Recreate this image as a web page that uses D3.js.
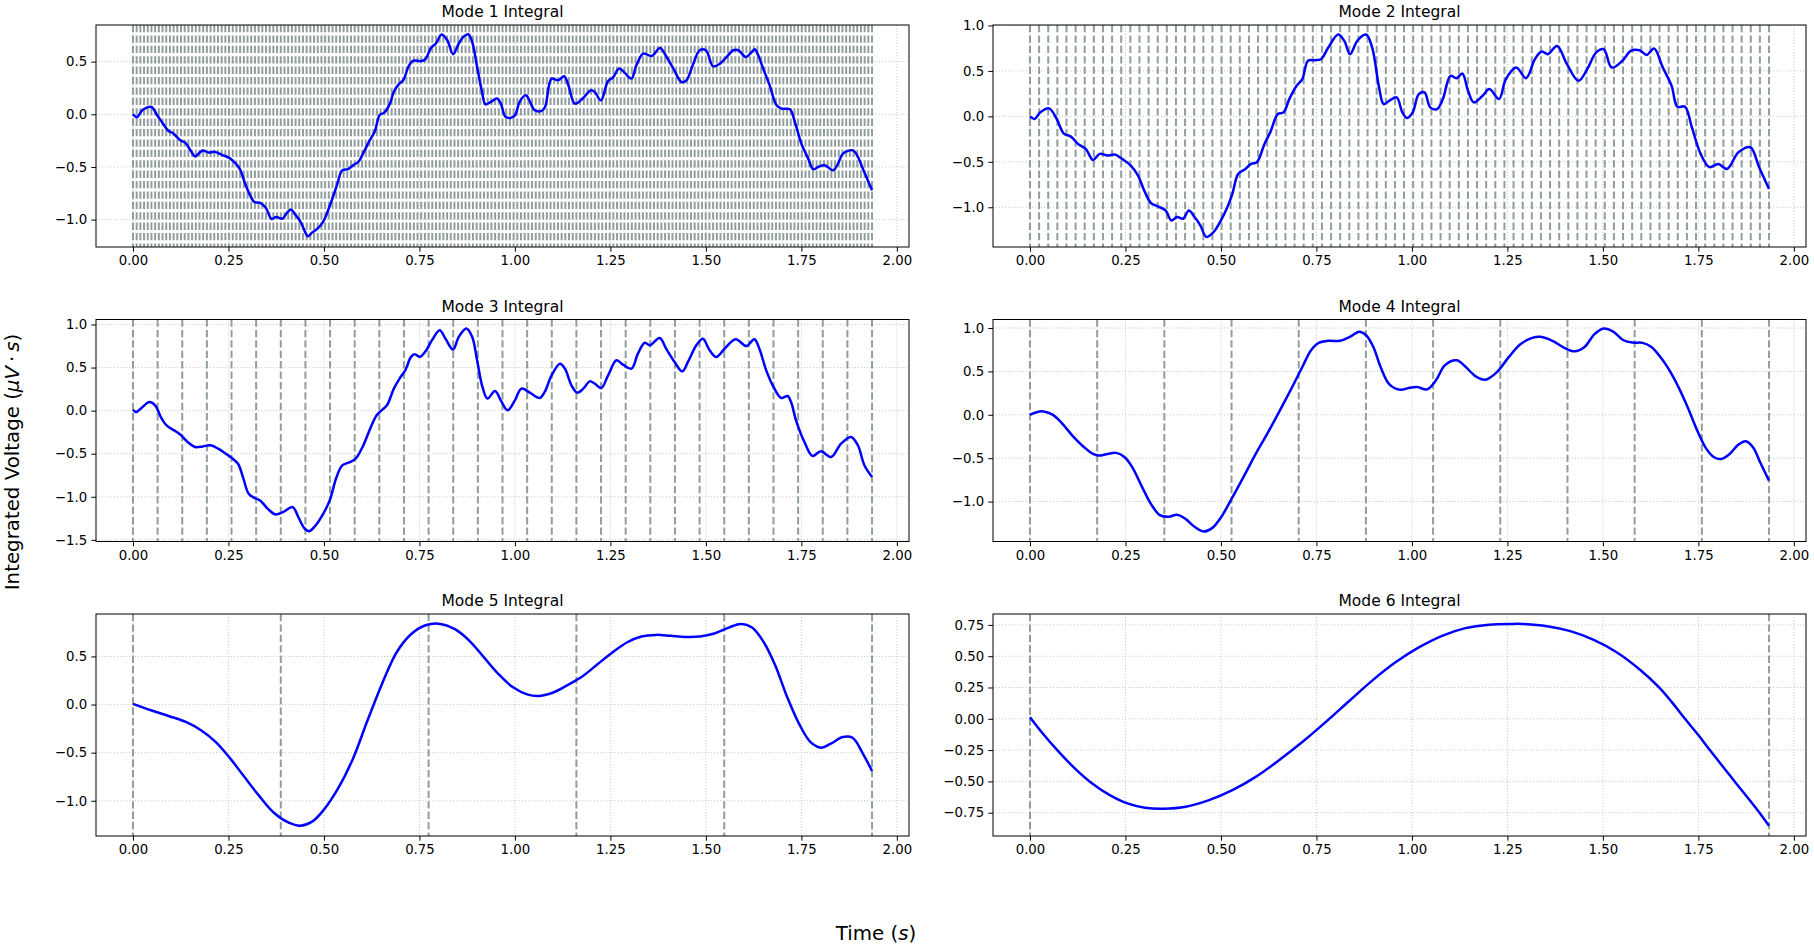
<!DOCTYPE html>
<html>
<head>
<meta charset="utf-8">
<script src="https://cdn.jsdelivr.net/npm/d3@7"></script>
<style>
  body { margin: 0; background: #fff; }
  text { font-family: "DejaVu Sans", sans-serif; fill: #000; }
</style>
</head>
<body>
<div id="chart"></div>
<script>
// values, [time (s), integrated voltage]
const mode1 = [
  [0, 0], [0.01, -0.028], [0.025, 0.04], [0.048, 0.07], [0.063, -0.006], [0.078, -0.085],
  [0.093, -0.158], [0.105, -0.18], [0.123, -0.243], [0.138, -0.274], [0.15, -0.338],
  [0.163, -0.4], [0.173, -0.37], [0.183, -0.344], [0.198, -0.363], [0.213, -0.356],
  [0.233, -0.385], [0.253, -0.416], [0.268, -0.464], [0.281, -0.527], [0.293, -0.653],
  [0.308, -0.78], [0.318, -0.833], [0.333, -0.842], [0.348, -0.89], [0.363, -0.994],
  [0.375, -0.975], [0.391, -0.99], [0.403, -0.937], [0.413, -0.905], [0.425, -0.953],
  [0.438, -1.016], [0.448, -1.095], [0.458, -1.158], [0.468, -1.126], [0.48, -1.095],
  [0.493, -1.047], [0.503, -0.984], [0.518, -0.842], [0.533, -0.685], [0.548, -0.533],
  [0.563, -0.52], [0.578, -0.48], [0.591, -0.448], [0.603, -0.369], [0.618, -0.259],
  [0.633, -0.164], [0.646, -0.006], [0.658, 0.016], [0.673, 0.104], [0.683, 0.215],
  [0.698, 0.293], [0.708, 0.325], [0.721, 0.451], [0.733, 0.508], [0.753, 0.505],
  [0.765, 0.52], [0.781, 0.634], [0.793, 0.672], [0.808, 0.757], [0.823, 0.703],
  [0.838, 0.571], [0.853, 0.672], [0.865, 0.735], [0.878, 0.76], [0.888, 0.688],
  [0.901, 0.451], [0.913, 0.23], [0.923, 0.095], [0.938, 0.12], [0.953, 0.151],
  [0.963, 0.104], [0.975, -0.022], [0.988, -0.035], [1.0, -0.01], [1.013, 0.123],
  [1.029, 0.18], [1.039, 0.123], [1.052, 0.038], [1.07, 0.032], [1.079, 0.07],
  [1.096, 0.339], [1.113, 0.323], [1.129, 0.361], [1.14, 0.275], [1.157, 0.101],
  [1.179, 0.155], [1.199, 0.228], [1.209, 0.212], [1.225, 0.133], [1.244, 0.316],
  [1.257, 0.351], [1.273, 0.434], [1.287, 0.396], [1.305, 0.339], [1.318, 0.465],
  [1.336, 0.576], [1.358, 0.554], [1.38, 0.63], [1.397, 0.544], [1.415, 0.434],
  [1.436, 0.307], [1.449, 0.323], [1.467, 0.481], [1.484, 0.608], [1.5, 0.608],
  [1.519, 0.456], [1.537, 0.481], [1.554, 0.544], [1.572, 0.608], [1.585, 0.608],
  [1.605, 0.544], [1.62, 0.592], [1.628, 0.617], [1.637, 0.56], [1.65, 0.434],
  [1.667, 0.275], [1.685, 0.085], [1.698, 0.054], [1.72, 0.047], [1.733, -0.073],
  [1.75, -0.278], [1.768, -0.421], [1.781, -0.522], [1.794, -0.5], [1.811, -0.484],
  [1.833, -0.532], [1.846, -0.468], [1.859, -0.373], [1.885, -0.342], [1.898, -0.405],
  [1.911, -0.516], [1.935, -0.722]
]

const mode2 = [
  [0, 0], [0.012, -0.029], [0.027, 0.044], [0.05, 0.088], [0.07, -0.029], [0.088, -0.186],
  [0.107, -0.223], [0.126, -0.303], [0.146, -0.358], [0.165, -0.479], [0.183, -0.413],
  [0.203, -0.431], [0.222, -0.42], [0.241, -0.468], [0.264, -0.541], [0.283, -0.651],
  [0.299, -0.815], [0.317, -0.954], [0.335, -0.991], [0.355, -1.035], [0.37, -1.144],
  [0.385, -1.108], [0.401, -1.126], [0.416, -1.035], [0.431, -1.108], [0.446, -1.199],
  [0.462, -1.327], [0.481, -1.272], [0.5, -1.144], [0.515, -1.016], [0.53, -0.852],
  [0.545, -0.633], [0.564, -0.578], [0.579, -0.523], [0.594, -0.505], [0.614, -0.303],
  [0.629, -0.176], [0.649, 0.026], [0.664, 0.044], [0.679, 0.19], [0.698, 0.336],
  [0.713, 0.41], [0.728, 0.611], [0.746, 0.618], [0.762, 0.629], [0.781, 0.757],
  [0.807, 0.9], [0.823, 0.83], [0.838, 0.684], [0.858, 0.837], [0.88, 0.9],
  [0.896, 0.757], [0.914, 0.318], [0.926, 0.135], [0.941, 0.172], [0.96, 0.208],
  [0.975, 0.044], [0.987, -0.018], [1.002, 0.044], [1.018, 0.245], [1.033, 0.263],
  [1.048, 0.099], [1.066, 0.08], [1.081, 0.19], [1.101, 0.446], [1.117, 0.42],
  [1.132, 0.472], [1.147, 0.282], [1.162, 0.154], [1.185, 0.227], [1.203, 0.3],
  [1.228, 0.19], [1.246, 0.41], [1.273, 0.537], [1.299, 0.42], [1.322, 0.629],
  [1.34, 0.713], [1.356, 0.684], [1.38, 0.775], [1.406, 0.574], [1.436, 0.391],
  [1.459, 0.519], [1.482, 0.702], [1.502, 0.739], [1.523, 0.537], [1.551, 0.611],
  [1.573, 0.72], [1.596, 0.728], [1.615, 0.676], [1.634, 0.746], [1.657, 0.537],
  [1.68, 0.336], [1.695, 0.106], [1.715, 0.106], [1.733, -0.121], [1.756, -0.413],
  [1.779, -0.559], [1.802, -0.523], [1.825, -0.578], [1.855, -0.395], [1.886, -0.34],
  [1.909, -0.559], [1.935, -0.8]
]

const mode3 = [
  [0, 0.01], [0.008, -0.016], [0.023, 0.035], [0.043, 0.1], [0.058, 0.062], [0.073, -0.074],
  [0.088, -0.171], [0.108, -0.229], [0.123, -0.275], [0.143, -0.364], [0.163, -0.422],
  [0.183, -0.415], [0.203, -0.403], [0.223, -0.442], [0.243, -0.5], [0.258, -0.547],
  [0.275, -0.616], [0.288, -0.771], [0.303, -0.965], [0.318, -1.012], [0.333, -1.043],
  [0.353, -1.14], [0.373, -1.205], [0.393, -1.178], [0.418, -1.12], [0.433, -1.236],
  [0.448, -1.36], [0.461, -1.399], [0.478, -1.333], [0.498, -1.198], [0.515, -1.043],
  [0.533, -0.771], [0.548, -0.636], [0.568, -0.597], [0.583, -0.558], [0.603, -0.403],
  [0.621, -0.209], [0.638, -0.054], [0.653, 0.012], [0.665, 0.062], [0.683, 0.256],
  [0.698, 0.372], [0.713, 0.469], [0.728, 0.624], [0.738, 0.655], [0.751, 0.624],
  [0.768, 0.702], [0.783, 0.818], [0.803, 0.934], [0.818, 0.837], [0.838, 0.709],
  [0.853, 0.857], [0.873, 0.953], [0.888, 0.857], [0.901, 0.585], [0.915, 0.275],
  [0.928, 0.14], [0.948, 0.229], [0.963, 0.12], [0.981, 0.004], [1.0, 0.12],
  [1.017, 0.255], [1.039, 0.209], [1.065, 0.147], [1.078, 0.217], [1.096, 0.41],
  [1.118, 0.545], [1.131, 0.487], [1.148, 0.294], [1.163, 0.209], [1.179, 0.255],
  [1.196, 0.34], [1.209, 0.313], [1.226, 0.263], [1.244, 0.41], [1.266, 0.584],
  [1.283, 0.534], [1.305, 0.487], [1.322, 0.661], [1.34, 0.789], [1.353, 0.758],
  [1.379, 0.843], [1.396, 0.719], [1.418, 0.565], [1.438, 0.456], [1.453, 0.565],
  [1.475, 0.758], [1.492, 0.835], [1.51, 0.7], [1.527, 0.623], [1.549, 0.719],
  [1.578, 0.828], [1.606, 0.75], [1.627, 0.828], [1.64, 0.719], [1.658, 0.468],
  [1.675, 0.294], [1.697, 0.147], [1.714, 0.17], [1.723, 0.1], [1.736, -0.112],
  [1.758, -0.364], [1.779, -0.526], [1.801, -0.472], [1.828, -0.538], [1.854, -0.383],
  [1.88, -0.305], [1.898, -0.402], [1.915, -0.634], [1.935, -0.77]
]

const mode4 = [
  [0, 0], [0.015, 0.027], [0.035, 0.039], [0.058, 0.004], [0.081, -0.085], [0.111, -0.239],
  [0.142, -0.374], [0.165, -0.451], [0.18, -0.47], [0.203, -0.451], [0.226, -0.439],
  [0.248, -0.489], [0.268, -0.605], [0.294, -0.836], [0.317, -1.029], [0.34, -1.156],
  [0.363, -1.175], [0.385, -1.152], [0.408, -1.202], [0.431, -1.291], [0.454, -1.345],
  [0.477, -1.306], [0.5, -1.183], [0.53, -0.952], [0.561, -0.701], [0.591, -0.451],
  [0.621, -0.22], [0.652, 0.031], [0.682, 0.281], [0.713, 0.551], [0.736, 0.744],
  [0.756, 0.829], [0.781, 0.852], [0.812, 0.852], [0.838, 0.898], [0.862, 0.956],
  [0.88, 0.917], [0.899, 0.782], [0.918, 0.551], [0.941, 0.351], [0.969, 0.289],
  [0.995, 0.312], [1.014, 0.32], [1.04, 0.293], [1.063, 0.397], [1.086, 0.57],
  [1.117, 0.628], [1.139, 0.559], [1.167, 0.443], [1.193, 0.405], [1.223, 0.493],
  [1.254, 0.667], [1.284, 0.813], [1.315, 0.886], [1.337, 0.898], [1.368, 0.852],
  [1.398, 0.775], [1.426, 0.732], [1.452, 0.782], [1.478, 0.929], [1.502, 0.994],
  [1.528, 0.956], [1.554, 0.859], [1.578, 0.832], [1.604, 0.829], [1.627, 0.782],
  [1.657, 0.628], [1.688, 0.405], [1.718, 0.127], [1.749, -0.2], [1.771, -0.393],
  [1.791, -0.489], [1.81, -0.509], [1.832, -0.451], [1.855, -0.343], [1.874, -0.304],
  [1.893, -0.374], [1.913, -0.559], [1.935, -0.759]
]

const mode5 = [
  [0, 0.007], [0.049, -0.062], [0.095, -0.121], [0.14, -0.183], [0.179, -0.269],
  [0.217, -0.39], [0.255, -0.562], [0.293, -0.759], [0.331, -0.952], [0.369, -1.124],
  [0.408, -1.228], [0.438, -1.259], [0.469, -1.217], [0.499, -1.097], [0.537, -0.872],
  [0.576, -0.562], [0.614, -0.166], [0.652, 0.214], [0.69, 0.541], [0.728, 0.731],
  [0.766, 0.824], [0.805, 0.838], [0.843, 0.783], [0.881, 0.662], [0.919, 0.49],
  [0.957, 0.317], [0.995, 0.179], [1.034, 0.103], [1.064, 0.09], [1.102, 0.128],
  [1.14, 0.207], [1.179, 0.3], [1.217, 0.421], [1.255, 0.541], [1.293, 0.645],
  [1.331, 0.707], [1.37, 0.724], [1.408, 0.714], [1.446, 0.703], [1.484, 0.707],
  [1.522, 0.738], [1.56, 0.8], [1.591, 0.838], [1.621, 0.8], [1.652, 0.645],
  [1.682, 0.403], [1.713, 0.076], [1.744, -0.2], [1.774, -0.39], [1.802, -0.448],
  [1.827, -0.407], [1.858, -0.338], [1.884, -0.345], [1.911, -0.51], [1.935, -0.69]
]

const mode6 = [
  [0, 0.013], [0.034, -0.119], [0.072, -0.252], [0.118, -0.398], [0.163, -0.517],
  [0.209, -0.61], [0.255, -0.676], [0.301, -0.71], [0.35, -0.718], [0.408, -0.702],
  [0.469, -0.649], [0.53, -0.57], [0.591, -0.464], [0.652, -0.331], [0.713, -0.186],
  [0.774, -0.027], [0.835, 0.14], [0.896, 0.305], [0.957, 0.451], [1.018, 0.57],
  [1.079, 0.663], [1.14, 0.724], [1.202, 0.752], [1.263, 0.758], [1.293, 0.757],
  [1.354, 0.74], [1.415, 0.7], [1.476, 0.63], [1.537, 0.53], [1.598, 0.39],
  [1.644, 0.26], [1.68, 0.135], [1.715, 0.0], [1.75, -0.13], [1.78, -0.25],
  [1.845, -0.5], [1.91, -0.75], [1.935, -0.855]
]

const series = [mode1, mode2, mode3, mode4, mode5, mode6]
const titles = ['Mode 1 Integral', 'Mode 2 Integral', 'Mode 3 Integral',
  'Mode 4 Integral', 'Mode 5 Integral', 'Mode 6 Integral']
// number of equal segments marked by the dashed lines in each panel
const segCounts = [200, 81, 30, 11, 5, 1]
const tEnd = 1.935
const xTicks = [0, 0.25, 0.5, 0.75, 1, 1.25, 1.5, 1.75, 2]
const yDomains = [[-1.26, 0.848], [-1.437, 1.005], [-1.519, 1.058],
  [-1.46, 1.098], [-1.366, 0.941], [-0.936, 0.837]]
const yTicks = [
  [-1, -0.5, 0, 0.5],
  [-1, -0.5, 0, 0.5, 1],
  [-1.5, -1, -0.5, 0, 0.5, 1],
  [-1, -0.5, 0, 0.5, 1],
  [-1, -0.5, 0, 0.5],
  [-0.75, -0.5, -0.25, 0, 0.25, 0.5, 0.75]
]
const yFormats = ['.1f', '.1f', '.1f', '.1f', '.1f', '.2f']

const width = 1814
const height = 947
const colLeft = [96, 993]
const rowTop = [25, 319.5, 614]
const panelW = 813
const panelH = 222

const svg = d3.select('#chart')
  .append('svg')
  .attr('width', width)
  .attr('height', height)
svg.append('rect')
  .attr('width', width)
  .attr('height', height)
  .attr('fill', '#fff')

const x = d3.scaleLinear()
  .domain([-0.0968, 2.0318])
  .range([0, panelW])

series.forEach(function (data, i) {
  const g = svg.append('g')
    .attr('transform', `translate(${colLeft[i % 2]},${rowTop[Math.floor(i / 2)]})`)
  const y = d3.scaleLinear()
    .domain(yDomains[i])
    .range([panelH, 0])

  // dotted grid
  g.append('g')
    .selectAll('line')
    .data(xTicks)
    .enter()
    .append('line')
    .attr('x1', d => x(d)).attr('x2', d => x(d))
    .attr('y1', 0).attr('y2', panelH)
    .attr('stroke', '#c4c4c4').attr('stroke-width', 0.9)
    .attr('stroke-dasharray', '1.1,1.9')
  g.append('g')
    .selectAll('line')
    .data(yTicks[i])
    .enter()
    .append('line')
    .attr('x1', 0).attr('x2', panelW)
    .attr('y1', d => y(d)).attr('y2', d => y(d))
    .attr('stroke', '#c4c4c4').attr('stroke-width', 0.9)
    .attr('stroke-dasharray', '1.1,1.9')

  // segment boundaries
  const bounds = d3.range(segCounts[i] + 1).map(k => tEnd * k / segCounts[i])
  g.append('g')
    .selectAll('line')
    .data(bounds)
    .enter()
    .append('line')
    .attr('x1', d => x(d)).attr('x2', d => x(d))
    .attr('y1', 0).attr('y2', panelH)
    .attr('stroke', '#7f8c8d').attr('stroke-opacity', 0.85)
    .attr('stroke-width', 2)
    .attr('stroke-dasharray', '7.3,3.1')

  const line = d3.line()
    .x(d => x(d[0]))
    .y(d => y(d[1]))
    .curve(d3.curveCatmullRom.alpha(0.5))
  g.append('path')
    .datum(data)
    .attr('d', line)
    .attr('fill', 'none')
    .attr('stroke', '#0000ff')
    .attr('stroke-width', 2.5)
    .attr('stroke-linejoin', 'round')

  const xAxis = g.append('g')
    .attr('transform', `translate(0,${panelH})`)
    .call(d3.axisBottom(x).tickValues(xTicks).tickFormat(d3.format('.2f'))
      .tickSize(4.7).tickPadding(4.2))
  const yAxis = g.append('g')
    .call(d3.axisLeft(y).tickValues(yTicks[i]).tickFormat(d3.format(yFormats[i]))
      .tickSize(4.7).tickPadding(4.2))
  for (const ax of [xAxis, yAxis]) {
    ax.select('.domain').remove()
    ax.selectAll('line').attr('stroke', '#000').attr('stroke-width', 1)
    ax.selectAll('text')
      .attr('fill', '#000')
      .style('font-family', '"DejaVu Sans", sans-serif')
      .style('font-size', '13.3px')
  }

  g.append('rect')
    .attr('width', panelW)
    .attr('height', panelH)
    .attr('fill', 'none')
    .attr('stroke', '#000')
    .attr('stroke-width', 1)

  g.append('text')
    .attr('x', panelW / 2)
    .attr('y', -8)
    .attr('text-anchor', 'middle')
    .style('font-size', '15.5px')
    .text(titles[i])
})

// shared axis labels
const yLab = svg.append('text')
  .attr('transform', 'translate(19,462) rotate(-90)')
  .attr('text-anchor', 'middle')
  .style('font-size', '19.8px')
yLab.append('tspan').text('Integrated Voltage (')
yLab.append('tspan').style('font-style', 'italic').text('μV')
yLab.append('tspan').text('\u2009·\u2009')
yLab.append('tspan').style('font-style', 'italic').text('s')
yLab.append('tspan').text(')')

const xLab = svg.append('text')
  .attr('x', 876)
  .attr('y', 940)
  .attr('text-anchor', 'middle')
  .style('font-size', '19.8px')
xLab.append('tspan').text('Time (')
xLab.append('tspan').style('font-style', 'italic').text('s')
xLab.append('tspan').text(')')
</script>
</body>
</html>
